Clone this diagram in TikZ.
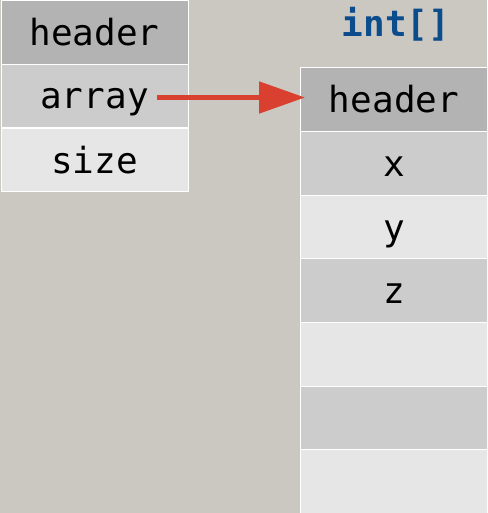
\documentclass[tikz,border=0pt]{standalone}
\usepackage{fontspec}
\setmonofont{DejaVu Sans Mono}
\usetikzlibrary{arrows.meta}
\definecolor{bgtone}{HTML}{CBC7C1}
\definecolor{cellhead}{HTML}{B3B3B3}
\definecolor{cellmid}{HTML}{CCCCCC}
\definecolor{celllight}{HTML}{E6E6E6}
\definecolor{titleblue}{HTML}{0B4C8C}
\definecolor{ptrred}{HTML}{D94030}
\tikzset{
  cell/.style={rectangle, draw=white, line width=1pt, minimum width=187pt,
    minimum height=63.6pt, inner sep=0pt, text height=26pt, text depth=0pt,
    font=\ttfamily\fontsize{36}{36}\selectfont},
  headcell/.style={cell, fill=cellhead},
  midcell/.style={cell, fill=cellmid},
  lightcell/.style={cell, fill=celllight},
  pointer/.style={draw=ptrred, line width=5pt, shorten >=-5pt,
    -{Triangle[length=46pt,width=31pt,fill=ptrred]}},
}
\begin{document}
\begin{tikzpicture}[x=1pt,y=-1pt]
  \clip (0,0) rectangle (487,513);
  \fill[bgtone] (0,0) rectangle (487,513);
  % object fields
  \node[headcell]  (hdr)  at (94.5,32.5) {header};
  \node[midcell]   (arr)  at (94.5,96)   {array};
  \node[lightcell] (size) at (94.5,160)  {size};
  % array contents
  \node[anchor=base, inner sep=0pt, font=\ttfamily\bfseries\fontsize{36}{36}\selectfont,
    text=titleblue] (title) at (396,37) {int[]};
  \node[headcell]  (ahdr) at (394,99.8)  {header};
  \node[midcell]   (ax)   at (394,163.4) {x};
  \node[lightcell] (ay)   at (394,227)   {y};
  \node[midcell]   (az)   at (394,290.6) {z};
  \node[lightcell] (a4)   at (394,354.2) {};
  \node[midcell]   (a5)   at (394,417.8) {};
  \node[lightcell] (a6)   at (394,481.4) {};
  % reference from the field to the array
  \coordinate (src) at (157,97.5);
  \draw[pointer] (src) -- (ahdr.west |- src);
\end{tikzpicture}
\end{document}
